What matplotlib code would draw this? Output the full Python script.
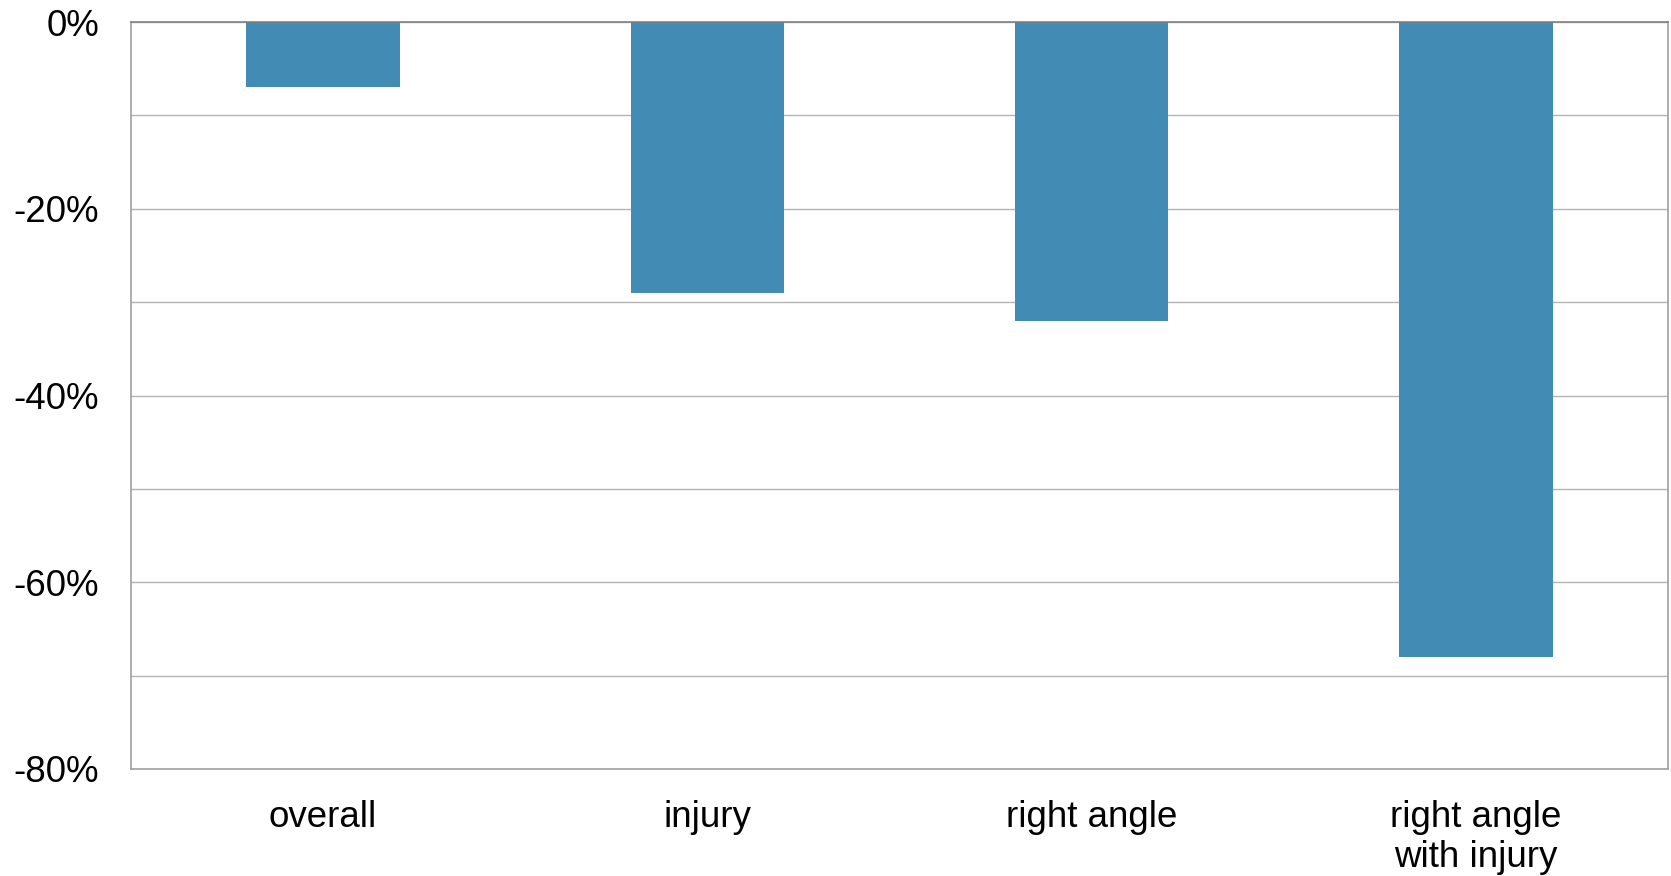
import matplotlib
matplotlib.use("Agg")
import matplotlib.pyplot as plt
from matplotlib.ticker import MultipleLocator, FuncFormatter

categories = ["overall", "injury", "right angle", "right angle\nwith injury"]
change_pct = [-7, -29, -32, -68]

bar_color = "#428bb4"
grid_color = "#b3b3b3"

plt.rcParams['font.family'] = ['Liberation Sans', 'DejaVu Sans']

fig = plt.figure(figsize=(16.71, 8.76), dpi=100)
ax = fig.add_axes([131 / 1671, 1 - 769 / 876, (1668 - 131) / 1671, (769 - 22) / 876])

x = range(len(categories))
ax.bar(x, change_pct, width=0.4, color=bar_color, zorder=2)

ax.set_xlim(-0.5, len(categories) - 0.5)
ax.set_ylim(-80, 0)
ax.yaxis.set_major_locator(MultipleLocator(20))
ax.yaxis.set_minor_locator(MultipleLocator(10))
ax.yaxis.set_major_formatter(FuncFormatter(lambda v, p: "%d%%" % v))
ax.grid(axis='y', which='both', color=grid_color, lw=1.0, zorder=0)

ax.set_xticks(list(x))
ax.set_xticklabels(categories, fontsize=26.5, linespacing=1.2)
ax.tick_params(axis='y', which='both', length=0, labelsize=26.5, pad=23)
ax.tick_params(axis='x', length=0, pad=22)

for side in ['left', 'bottom', 'right']:
    ax.spines[side].set_color('#a0a0a0')
    ax.spines[side].set_linewidth(1.2)
ax.spines['top'].set_color('#808080')
ax.spines['top'].set_linewidth(1.2)

fig.savefig("out.png", dpi=100)
